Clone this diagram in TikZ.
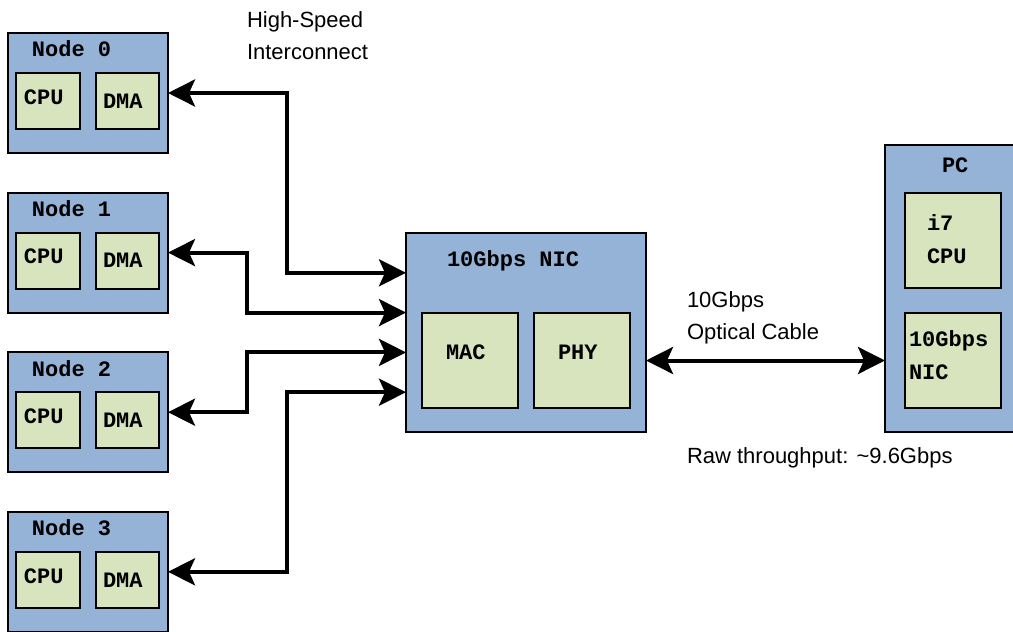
\documentclass[tikz,border=0pt]{standalone}
\usepackage{fontspec}
\setmainfont{Liberation Sans}
\setmonofont{Liberation Mono}
\usepackage{xcolor}
\usepackage{tikz}
\usetikzlibrary{positioning, arrows.meta, calc}
\definecolor{hostblue}{RGB}{149,179,215}
\definecolor{unitgreen}{RGB}{215,228,189}

\begin{document}
\begin{tikzpicture}[x=0.5pt, y=-0.5pt,
    every node/.style={font=\fontsize{11}{16}\selectfont, inner sep=0pt, outer sep=0pt},
    hostbox/.style={draw, fill=hostblue, line width=1.1pt},
    unitbox/.style={draw, fill=unitgreen, line width=1.1pt, minimum width=48pt, minimum height=47.5pt},
    mono/.style={font=\fontsize{11}{16.5}\selectfont\ttfamily\bfseries, align=left},
    link/.style={line width=2pt, {Stealth[length=13.5pt, width=13.5pt, inset=3pt]}-{Stealth[length=13.5pt, width=13.5pt, inset=3pt]}}]
  \useasboundingbox (0,0) rectangle (1013,632);

  % compute nodes
  \foreach \i in {0,...,3} {
    \pgfmathsetmacro{\dy}{159.6*\i}
    \node[hostbox, minimum width=80pt, minimum height=60pt] (n\i) at (88,93+\dy) {};
    \node[unitbox, minimum width=32pt, minimum height=28pt] (cpu\i) at (48,101+\dy) {};
    \node[unitbox, minimum width=31.5pt, minimum height=28pt] (dma\i) at (127.5,101+\dy) {};
    \node[mono, anchor=west] (n\i title) at (32,49+\dy) {Node \i};
    \node[mono, anchor=west] (cpu\i text) at (24,97+\dy) {CPU};
    \node[mono, anchor=west] (dma\i text) at (103,101+\dy) {DMA};
  }

  % NIC
  \node[hostbox, minimum width=120pt, minimum height=99.5pt] (nic) at (526,332.5) {};
  \node[unitbox] (mac) at (470,360.5) {};
  \node[unitbox] (phy) at (582,360.5) {};
  \node[mono, anchor=west] (nic title) at (447,261) {10Gbps NIC};
  \node[mono, anchor=west] (mac text) at (446,352) {MAC};
  \node[mono, anchor=west] (phy text) at (558,352) {PHY};

  % PC
  \node[hostbox, minimum width=68pt, minimum height=143.5pt] (pc) at (953,288.5) {};
  \node[unitbox] (cpu) at (953,240.5) {};
  \node[unitbox] (pcnic) at (953,360.5) {};
  \node[mono, anchor=west] (pc title) at (942,165) {PC};
  \node[mono, anchor=north west] (cpu text) at (927,215) {i7\\CPU};
  \node[mono, anchor=north west] (pcnic text) at (909,331) {10Gbps\\NIC};

  % interconnect
  \coordinate (colA) at (287,0);
  \coordinate (colB) at (247,0);
  \foreach \i/\f/\c in {0/0.2/colA, 1/0.4/colB, 2/0.6/colB, 3/0.8/colA} {
    \coordinate (in\i) at ($(nic.north west)!\f!(nic.south west)$);
    \draw[link] (n\i.east) -| (\c |- in\i) -- (in\i);
  }
  \draw[link] (nic.east |- phy) -- (pc.west |- phy);

  \node[anchor=north west, align=left] (hs) at (247,12) {High-Speed\\Interconnect};
  \node[anchor=north west, align=left] (cable) at (687,292) {10Gbps\\Optical Cable};
  \node[anchor=west] (rate) at (687,458) {Raw throughput: \textasciitilde9.6Gbps};
\end{tikzpicture}
\end{document}
